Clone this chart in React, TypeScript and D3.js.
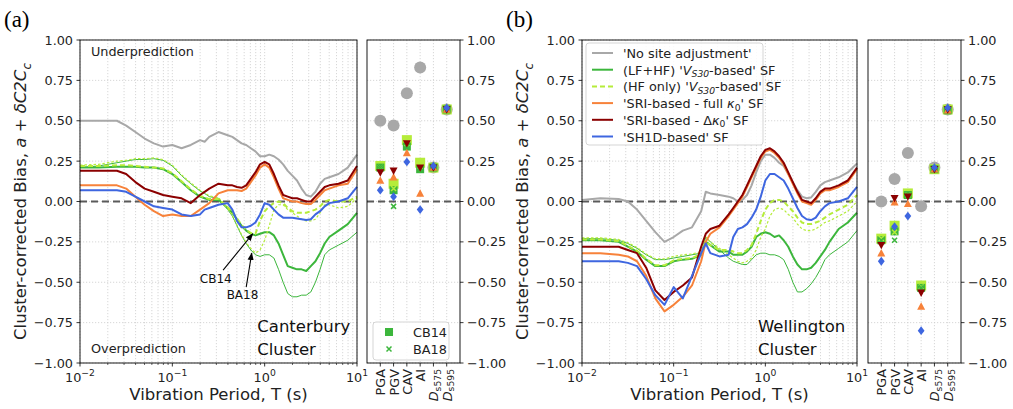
import React from "react";
import * as d3 from "d3";

// ---------- DATA ----------
const LOG_T = [
  -2, -1.8, -1.6, -1.5, -1.4, -1.3, -1.2, -1.1, -1.0, -0.9, -0.8,
  -0.7, -0.65, -0.6, -0.5, -0.4, -0.35, -0.3, -0.25, -0.2, -0.15, -0.1,
  -0.05, 0, 0.05, 0.1, 0.15, 0.2, 0.25, 0.3, 0.35, 0.4, 0.45,
  0.5, 0.55, 0.6, 0.65, 0.7, 0.8, 0.9, 1.0,
];
const PERIOD = LOG_T.map((e) => Math.pow(10, e));

// Panel (a) Canterbury
const A_NOSITE = [
  0.50, 0.50, 0.50, 0.47, 0.43, 0.39, 0.36, 0.34, 0.35, 0.33, 0.35,
  0.38, 0.37, 0.40, 0.43, 0.41, 0.40, 0.38, 0.36, 0.35, 0.33, 0.31,
  0.28, 0.28, 0.29, 0.28, 0.26, 0.23, 0.19, 0.16, 0.13, 0.08, 0.04,
  0.03, 0.06, 0.11, 0.14, 0.15, 0.17, 0.21, 0.29,
];
const A_VS30_CB = [
  0.21, 0.21, 0.215, 0.215, 0.215, 0.21, 0.21, 0.20, 0.17, 0.12, 0.07,
  0.03, 0.02, 0.01, 0.01, -0.04, -0.07, -0.11, -0.15, -0.18, -0.20, -0.21,
  -0.20, -0.19, -0.19, -0.21, -0.26, -0.33, -0.40, -0.41, -0.42, -0.42, -0.43,
  -0.40, -0.37, -0.32, -0.26, -0.22, -0.18, -0.14, -0.07,
];
const A_VS30_BA = [
  0.21, 0.22, 0.24, 0.25, 0.26, 0.26, 0.265, 0.255, 0.22, 0.16, 0.11,
  0.065, 0.05, 0.03, 0.02, -0.05, -0.09, -0.15, -0.21, -0.26, -0.30, -0.33,
  -0.34, -0.33, -0.33, -0.35, -0.42, -0.50, -0.57, -0.59, -0.59, -0.58, -0.58,
  -0.56, -0.50, -0.42, -0.33, -0.30, -0.27, -0.24, -0.19,
];
const A_HF_CB = [
  0.22, 0.22, 0.225, 0.225, 0.22, 0.215, 0.21, 0.205, 0.175, 0.125, 0.075,
  0.035, 0.025, 0.015, 0.015, -0.035, -0.065, -0.105, -0.145, -0.175, -0.195, -0.20,
  -0.12, -0.06, -0.03, -0.01, 0.0, -0.01, -0.04, -0.06, -0.07, -0.07, -0.07,
  -0.06, -0.05, -0.03, 0.0, 0.01, 0.0, 0.0, 0.03,
];
const A_HF_BA = [
  0.225, 0.23, 0.25, 0.255, 0.265, 0.265, 0.27, 0.26, 0.225, 0.165, 0.115,
  0.07, 0.055, 0.035, 0.025, -0.045, -0.085, -0.145, -0.205, -0.255, -0.29, -0.32,
  -0.30, -0.24, -0.15, -0.05, -0.02, -0.02, -0.05, -0.07, -0.09, -0.11, -0.12,
  -0.12, -0.11, -0.07, -0.02, -0.02, -0.04, -0.03, 0.02,
];
const A_SRI_FULL = [
  0.10, 0.10, 0.10, 0.08, 0.03, -0.02, -0.06, -0.09, -0.08, -0.09, -0.09,
  -0.05, -0.03, -0.01, 0.05, 0.07, 0.07, 0.07, 0.065, 0.08, 0.12, 0.16,
  0.21, 0.23, 0.21, 0.15, 0.08, 0.02, 0.01, 0.0, 0.0, -0.01, -0.015,
  -0.015, 0.01, 0.04, 0.07, 0.08, 0.10, 0.11, 0.20,
];
const A_SRI_DELTA = [
  0.19, 0.19, 0.19, 0.17, 0.12, 0.08, 0.06, 0.04, 0.03, 0.02, -0.01,
  0.04, 0.06, 0.08, 0.11, 0.10, 0.10, 0.09, 0.085, 0.10, 0.14, 0.18,
  0.23, 0.245, 0.23, 0.17, 0.10, 0.04, 0.03, 0.02, 0.02, 0.01, 0.0,
  0.0, 0.03, 0.06, 0.09, 0.10, 0.11, 0.13, 0.22,
];
const A_SH1D = [
  0.07, 0.07, 0.07, 0.06, 0.03, 0.0, -0.03, -0.04, -0.05, -0.08, -0.09,
  -0.08, -0.05, -0.04, -0.02, -0.01, -0.05, -0.12, -0.16, -0.16, -0.15, -0.13,
  -0.08, -0.01, -0.02, -0.05, -0.08, -0.10, -0.10, -0.10, -0.105, -0.11, -0.115,
  -0.11, -0.08, -0.06, -0.03, -0.01, 0.0, 0.02, 0.09,
];

// Panel (b) Wellington
const B_NOSITE = [
  0.01, 0.02, 0.015, 0.0, -0.05, -0.12, -0.19, -0.25, -0.22, -0.18, -0.16,
  -0.06, 0.06, 0.05, 0.04, 0.03, 0.02, 0.0, 0.01, 0.04, 0.10, 0.18,
  0.25, 0.29, 0.29, 0.27, 0.24, 0.22, 0.17, 0.12, 0.07, 0.03, 0.02,
  0.025, 0.06, 0.10, 0.12, 0.13, 0.15, 0.18, 0.235,
];
const B_VS30_CB = [
  -0.24, -0.24, -0.25, -0.28, -0.31, -0.36, -0.40, -0.40, -0.37, -0.36, -0.355,
  -0.33, -0.25, -0.27, -0.31, -0.31, -0.33, -0.33, -0.33, -0.31, -0.28, -0.22,
  -0.20, -0.19, -0.20, -0.22, -0.21, -0.24, -0.28, -0.34, -0.39, -0.42, -0.42,
  -0.41, -0.38, -0.34, -0.30, -0.25, -0.17, -0.13, -0.07,
];
const B_VS30_BA = [
  -0.23, -0.23, -0.24, -0.26, -0.29, -0.33, -0.36, -0.36, -0.35, -0.34, -0.33,
  -0.32, -0.22, -0.25, -0.30, -0.35, -0.37, -0.38, -0.39, -0.39, -0.36, -0.33,
  -0.32, -0.32, -0.33, -0.33, -0.34, -0.36, -0.42, -0.50, -0.56, -0.56, -0.54,
  -0.51, -0.47, -0.42, -0.36, -0.33, -0.29, -0.25, -0.18,
];
const B_HF_CB = [
  -0.235, -0.235, -0.245, -0.275, -0.305, -0.355, -0.395, -0.395, -0.365, -0.355, -0.35,
  -0.325, -0.25, -0.27, -0.30, -0.30, -0.31, -0.32, -0.32, -0.30, -0.27, -0.20,
  -0.12, -0.05, -0.01, 0.01, 0.01, 0.0, -0.03, -0.06, -0.10, -0.13, -0.14,
  -0.14, -0.13, -0.12, -0.10, -0.08, -0.05, -0.02, 0.04,
];
const B_HF_BA = [
  -0.225, -0.225, -0.235, -0.255, -0.285, -0.325, -0.355, -0.355, -0.34, -0.33, -0.325,
  -0.31, -0.22, -0.25, -0.29, -0.33, -0.35, -0.37, -0.38, -0.37, -0.35, -0.30,
  -0.22, -0.17, -0.09, -0.05, -0.04, -0.05, -0.08, -0.10, -0.14, -0.17, -0.18,
  -0.18, -0.17, -0.15, -0.13, -0.12, -0.09, -0.06, 0.0,
];
const B_SRI_FULL = [
  -0.32, -0.32, -0.33, -0.34, -0.37, -0.46, -0.60, -0.68, -0.64, -0.59, -0.52,
  -0.37, -0.25, -0.20, -0.16, -0.09, -0.05, -0.01, 0.03, 0.09, 0.15, 0.21,
  0.27, 0.31, 0.32, 0.30, 0.27, 0.23, 0.17, 0.11, 0.05, 0.0, -0.01,
  -0.02, 0.01, 0.05, 0.07, 0.07, 0.09, 0.12, 0.20,
];
const B_SRI_DELTA = [
  -0.28, -0.28, -0.28, -0.30, -0.32, -0.41, -0.55, -0.61, -0.56, -0.52, -0.47,
  -0.28, -0.20, -0.17, -0.15, -0.08, -0.04, 0.0, 0.04, 0.10, 0.16, 0.22,
  0.28, 0.32, 0.33, 0.31, 0.28, 0.24, 0.18, 0.12, 0.06, 0.01, 0.0,
  -0.01, 0.02, 0.06, 0.08, 0.08, 0.10, 0.13, 0.21,
];
const B_SH1D = [
  -0.37, -0.37, -0.37, -0.38, -0.40, -0.48, -0.58, -0.64, -0.53, -0.60, -0.46,
  -0.32, -0.26, -0.32, -0.34, -0.33, -0.22, -0.17, -0.16, -0.14, -0.10, -0.05,
  0.03, 0.13, 0.17, 0.17, 0.15, 0.13, 0.08, 0.02, -0.04, -0.09, -0.11,
  -0.115, -0.10, -0.06, -0.03, -0.01, 0.0, 0.02, 0.09,
];

// Intensity measures (small panels)
const IM_NAMES = ["PGA", "PGV", "CAV", "AI", "Ds575", "Ds595"];
const A_IM_NOSITE = [0.50, 0.47, 0.67, 0.83, 0.21, 0.57];
const A_IM_VS30_CB = [0.21, 0.07, 0.34, 0.20, 0.21, 0.57];
const A_IM_VS30_BA = [0.21, -0.03, 0.34, 0.20, 0.21, 0.57];
const A_IM_HF_CB = [0.22, 0.11, 0.38, 0.24, 0.21, 0.57];
const A_IM_HF_BA = [0.21, 0.08, 0.36, 0.22, 0.21, 0.57];
const A_IM_SRI_FULL = [0.13, 0.15, 0.30, 0.05, 0.21, 0.57];
const A_IM_SRI_DELTA = [0.18, 0.19, 0.36, 0.21, 0.21, 0.57];
const A_IM_SH1D = [0.07, 0.03, 0.245, -0.05, 0.22, 0.58];

const B_IM_NOSITE = [0.0, 0.14, 0.30, -0.03, 0.21, 0.57];
const B_IM_VS30_CB = [-0.24, -0.185, 0.04, -0.535, 0.20, 0.565];
const B_IM_VS30_BA = [-0.24, -0.24, 0.04, -0.535, 0.20, 0.565];
const B_IM_HF_CB = [-0.23, -0.15, 0.05, -0.52, 0.20, 0.57];
const B_IM_HF_BA = [-0.23, -0.19, 0.04, -0.53, 0.20, 0.57];
const B_IM_SRI_FULL = [-0.32, -0.005, -0.015, -0.65, 0.20, 0.565];
const B_IM_SRI_DELTA = [-0.27, 0.02, 0.03, -0.565, 0.20, 0.57];
const B_IM_SH1D = [-0.37, -0.155, -0.09, -0.80, 0.21, 0.58];

const Y_TICKS = [-1, -0.75, -0.5, -0.25, 0, 0.25, 0.5, 0.75, 1];
const X_DECADES = [-2, -1, 0, 1];

// ---------- STYLE ----------
const FONT = "'DejaVu Sans', Verdana, sans-serif";
const GRAY = "#a8a8a8";
const GREEN = "#3cb63c";
const LIME = "#b5ec3a";
const ORANGE = "#f7823a";
const DARKRED = "#8b0000";
const BLUE = "#3e66e0";
const GRID = "#cdcdcd";

const TOP = 40;
const BOTTOM = 363;
const TICK_FS = 12.8;
const LABEL_FS = 16.5;

type Seg = { t: string; it?: boolean; sub?: boolean; sup?: boolean };

function segs(list: Seg[], fs: number) {
  let cur = 0;
  return list.map((s, i) => {
    const target = s.sub ? fs * 0.28 : s.sup ? -fs * 0.45 : 0;
    const dy = target - cur;
    cur = target;
    return (
      <tspan
        key={i}
        dy={dy !== 0 ? dy : undefined}
        fontStyle={s.it ? "italic" : undefined}
        fontSize={s.sub || s.sup ? fs * 0.72 : undefined}
      >
        {s.t}
      </tspan>
    );
  });
}

const fmtY = (v: number) => (v < 0 ? "\u2212" : "") + Math.abs(v).toFixed(2);

const yScale = d3.scaleLinear().domain([-1, 1]).range([BOTTOM, TOP]);

type LineSpec = { v: number[]; c: string; w: number; dash?: string };
type MarkSpec = { v: number[]; type: string; c: string; size: number };

function Marker({ type, x, y, c, size }: { type: string; x: number; y: number; c: string; size: number }) {
  const h = size / 2;
  if (type === "circle") return <circle cx={x} cy={y} r={h} fill={c} />;
  if (type === "square") return <rect x={x - h} y={y - h} width={size} height={size} fill={c} />;
  if (type === "x")
    return (
      <path d={`M${x - h},${y - h}L${x + h},${y + h}M${x - h},${y + h}L${x + h},${y - h}`} stroke={c} strokeWidth={1.5} />
    );
  if (type === "tri-up")
    return <path d={`M${x},${y - h * 1.05}L${x + h},${y + h * 0.8}L${x - h},${y + h * 0.8}Z`} fill={c} />;
  if (type === "tri-down")
    return <path d={`M${x},${y + h * 1.05}L${x + h},${y - h * 0.8}L${x - h},${y - h * 0.8}Z`} fill={c} />;
  if (type === "diamond")
    return <path d={`M${x},${y - h * 1.1}L${x + h * 0.85},${y}L${x},${y + h * 1.1}L${x - h * 0.85},${y}Z`} fill={c} />;
  return null;
}

function Panel({
  x0, x1, sx0, sx1, lines, marks, letter, letterX, clusterName, isA,
}: {
  x0: number; x1: number; sx0: number; sx1: number; lines: LineSpec[]; marks: MarkSpec[];
  letter: string; letterX: number; clusterName: string; isA: boolean;
}) {
  const xs = d3.scaleLog().domain([0.01, 10]).range([x0, x1]);
  const xc = d3.scaleLinear().domain([-1, 6]).range([sx0, sx1]);
  const line = d3
    .line<number>()
    .x((_, i) => xs(PERIOD[i]))
    .y((v) => yScale(v));
  const minors: number[] = [];
  [-2, -1, 0].forEach((e) => {
    for (let k = 2; k <= 9; k++) minors.push(k * Math.pow(10, e));
  });
  const majors = X_DECADES.map((e) => Math.pow(10, e));
  const clipId = `clip-${letter}`;
  const W = x1 - x0;
  const labelX = x0 - 54;
  return (
    <g fontFamily={FONT}>
      <defs>
        <clipPath id={clipId}>
          <rect x={x0} y={TOP} width={x1 - x0} height={BOTTOM - TOP} />
        </clipPath>
      </defs>
      {/* panel letter */}
      <text x={letterX} y={27} fontFamily="'Liberation Serif', 'DejaVu Serif', serif" fontSize={23}>
        {letter}
      </text>
      {/* main grid */}
      {[...minors, ...majors].map((t, i) => (
        <line key={"vg" + i} x1={xs(t)} x2={xs(t)} y1={TOP} y2={BOTTOM} stroke={GRID} strokeWidth={0.8} strokeDasharray="1.2,1.8" />
      ))}
      {Y_TICKS.map((t, i) => (
        <line key={"hg" + i} x1={x0} x2={x1} y1={yScale(t)} y2={yScale(t)} stroke={GRID} strokeWidth={0.8} strokeDasharray="1.2,1.8" />
      ))}
      {/* zero line */}
      <line x1={x0} x2={x1} y1={yScale(0)} y2={yScale(0)} stroke="#5a5a5a" strokeWidth={2} strokeDasharray="7,4" />
      {/* curves */}
      <g clipPath={`url(#${clipId})`}>
        {lines.map((l, i) => (
          <path
            key={"l" + i}
            d={line(l.v) || ""}
            fill="none"
            stroke={l.c}
            strokeWidth={l.w}
            strokeDasharray={l.dash}
            strokeLinejoin="round"
          />
        ))}
      </g>
      {/* frame */}
      <rect x={x0} y={TOP} width={x1 - x0} height={BOTTOM - TOP} fill="none" stroke="#000" strokeWidth={0.9} />
      {/* y ticks */}
      {Y_TICKS.map((t, i) => (
        <g key={"yt" + i}>
          <line x1={x0 - 3.5} x2={x0} y1={yScale(t)} y2={yScale(t)} stroke="#000" strokeWidth={0.8} />
          <text x={x0 - 7} y={yScale(t)} textAnchor="end" dominantBaseline="central" fontSize={TICK_FS} fill="#222">
            {fmtY(t)}
          </text>
        </g>
      ))}
      {/* x ticks */}
      {minors.map((t, i) => (
        <line key={"xm" + i} x1={xs(t)} x2={xs(t)} y1={BOTTOM} y2={BOTTOM + 2} stroke="#000" strokeWidth={0.6} />
      ))}
      {X_DECADES.map((e, i) => (
        <g key={"xt" + i}>
          <line x1={xs(Math.pow(10, e))} x2={xs(Math.pow(10, e))} y1={BOTTOM} y2={BOTTOM + 3.5} stroke="#000" strokeWidth={0.8} />
          <text x={xs(Math.pow(10, e))} y={381.5} textAnchor="middle" fontSize={TICK_FS} fill="#222">
            {segs([{ t: "10" }, { t: e < 0 ? "\u2212" + Math.abs(e) : String(e), sup: true }], TICK_FS)}
          </text>
        </g>
      ))}
      {/* axis labels */}
      <text x={(x0 + x1) / 2} y={399.5} textAnchor="middle" fontSize={LABEL_FS} fill="#222">
        Vibration Period, T (s)
      </text>
      <text transform={`translate(${labelX},${(TOP + BOTTOM) / 2}) rotate(-90)`} textAnchor="middle" fontSize={LABEL_FS} fill="#222">
        {segs(
          [
            { t: "Cluster-corrected Bias, " },
            { t: "a", it: true },
            { t: " + " },
            { t: "\u03b4C2C", it: true },
            { t: "c", it: true, sub: true },
          ],
          LABEL_FS
        )}
      </text>
      {/* cluster name */}
      <text x={x0 + 0.64 * W} y={332} fontSize={LABEL_FS} fill="#111">
        {clusterName}
      </text>
      <text x={x0 + 0.64 * W} y={355} fontSize={LABEL_FS} fill="#111">
        Cluster
      </text>
      {isA && (
        <g>
          <text x={x0 + 11} y={56} fontSize={TICK_FS} fill="#222">Underprediction</text>
          <text x={x0 + 11} y={353} fontSize={TICK_FS} fill="#222">Overprediction</text>
        </g>
      )}
      {isA && <Annotations xs={xs} />}
      {!isA && <MainLegend x={x0 + 4} y={43} />}

      {/* small panel */}
      {IM_NAMES.map((_, i) => (
        <line key={"sg" + i} x1={xc(i)} x2={xc(i)} y1={TOP} y2={BOTTOM} stroke={GRID} strokeWidth={0.8} strokeDasharray="1.2,1.8" />
      ))}
      {Y_TICKS.map((t, i) => (
        <line key={"shg" + i} x1={sx0} x2={sx1} y1={yScale(t)} y2={yScale(t)} stroke={GRID} strokeWidth={0.8} strokeDasharray="1.2,1.8" />
      ))}
      <line x1={sx0} x2={sx1} y1={yScale(0)} y2={yScale(0)} stroke="#5a5a5a" strokeWidth={2} strokeDasharray="7,4" />
      {marks.map((m, mi) =>
        m.v.map((v, i) => <Marker key={`m${mi}-${i}`} type={m.type} x={xc(i)} y={yScale(v)} c={m.c} size={m.size} />)
      )}
      <rect x={sx0} y={TOP} width={sx1 - sx0} height={BOTTOM - TOP} fill="none" stroke="#000" strokeWidth={0.9} />
      {Y_TICKS.map((t, i) => (
        <g key={"syt" + i}>
          <line x1={sx1} x2={sx1 + 3.5} y1={yScale(t)} y2={yScale(t)} stroke="#000" strokeWidth={0.8} />
          <text x={sx1 + 7} y={yScale(t)} dominantBaseline="central" fontSize={TICK_FS} fill="#222">
            {fmtY(t)}
          </text>
        </g>
      ))}
      {IM_NAMES.map((n, i) => {
        const parts: Seg[] = n.startsWith("Ds") ? [{ t: "D", it: true }, { t: "s" + n.slice(2), sub: true }] : [{ t: n }];
        return (
          <g key={"sx" + i}>
            <line x1={xc(i)} x2={xc(i)} y1={BOTTOM} y2={BOTTOM + 3.5} stroke="#000" strokeWidth={0.8} />
            <text
              transform={`translate(${xc(i)},${BOTTOM + 6}) rotate(-90)`}
              textAnchor="end"
              dominantBaseline="central"
              fontSize={TICK_FS}
              fill="#222"
            >
              {segs(parts, TICK_FS)}
            </text>
          </g>
        );
      })}
      {isA && <SmallLegend x={sx0 + 6} y={322} />}
    </g>
  );
}

function Annotations({ xs }: { xs: d3.ScaleLogarithmic<number, number> }) {
  const arrows = [
    { label: "CB14", tx: Math.pow(10, -0.53), ty: -0.48, fx: Math.pow(10, -0.45), fy: -0.425, ax: Math.pow(10, -0.13), ay: -0.2 },
    { label: "BA18", tx: Math.pow(10, -0.24), ty: -0.58, fx: Math.pow(10, -0.2), fy: -0.53, ax: Math.pow(10, -0.14), ay: -0.32 },
  ];
  return (
    <g>
      <defs>
        <marker id="arrowhead" viewBox="0 0 10 10" refX="9" refY="5" markerWidth="7" markerHeight="7" orient="auto">
          <path d="M0,1L10,5L0,9Z" fill="#000" />
        </marker>
      </defs>
      {arrows.map((a, i) => (
        <g key={i}>
          <line
            x1={xs(a.fx)}
            y1={yScale(a.fy)}
            x2={xs(a.ax)}
            y2={yScale(a.ay)}
            stroke="#000"
            strokeWidth={1.1}
            markerEnd="url(#arrowhead)"
          />
          <text x={xs(a.tx)} y={yScale(a.ty)} textAnchor="middle" dominantBaseline="central" fontSize={12} fill="#111">
            {a.label}
          </text>
        </g>
      ))}
    </g>
  );
}

const LEGEND_ITEMS: { segs: Seg[]; c: string; dash?: string }[] = [
  { segs: [{ t: "'No site adjustment'" }], c: GRAY },
  { segs: [{ t: "(LF+HF) '" }, { t: "V", it: true }, { t: "S30", it: true, sub: true }, { t: "-based' SF" }], c: GREEN },
  { segs: [{ t: "(HF only) '" }, { t: "V", it: true }, { t: "S30", it: true, sub: true }, { t: "-based' SF" }], c: LIME, dash: "5,3" },
  { segs: [{ t: "'SRI-based - full " }, { t: "\u03ba", it: true }, { t: "0", sub: true }, { t: "' SF" }], c: ORANGE },
  { segs: [{ t: "'SRI-based - \u0394" }, { t: "\u03ba", it: true }, { t: "0", sub: true }, { t: "' SF" }], c: DARKRED },
  { segs: [{ t: "'SH1D-based' SF" }], c: BLUE },
];

function MainLegend({ x, y }: { x: number; y: number }) {
  const step = 16.7;
  return (
    <g>
      <rect x={x} y={y} width={177} height={102} rx={3} fill="#fff" fillOpacity={0.85} stroke="#d0d0d0" strokeWidth={0.9} />
      {LEGEND_ITEMS.map((it, i) => {
        const cy = y + 10 + i * step;
        return (
          <g key={i}>
            <line x1={x + 6} x2={x + 27} y1={cy} y2={cy} stroke={it.c} strokeWidth={2} strokeDasharray={it.dash} />
            <text x={x + 37} y={cy} dominantBaseline="central" fontSize={TICK_FS} fill="#222">
              {segs(it.segs, TICK_FS)}
            </text>
          </g>
        );
      })}
    </g>
  );
}

function SmallLegend({ x, y }: { x: number; y: number }) {
  return (
    <g>
      <rect x={x} y={y} width={76} height={38} rx={3} fill="#fff" fillOpacity={0.85} stroke="#d0d0d0" strokeWidth={0.9} />
      <Marker type="square" x={x + 16} y={y + 10} c={GREEN} size={8} />
      <text x={x + 40} y={y + 10} dominantBaseline="central" fontSize={TICK_FS} fill="#222">CB14</text>
      <Marker type="x" x={x + 16} y={y + 27} c={GREEN} size={5} />
      <text x={x + 40} y={y + 27} dominantBaseline="central" fontSize={TICK_FS} fill="#222">BA18</text>
    </g>
  );
}

const A_LINES: LineSpec[] = [
  { v: A_NOSITE, c: GRAY, w: 2 },
  { v: A_VS30_BA, c: GREEN, w: 1 },
  { v: A_VS30_CB, c: GREEN, w: 2 },
  { v: A_HF_BA, c: LIME, w: 1.2, dash: "2.5,2" },
  { v: A_HF_CB, c: LIME, w: 2, dash: "5,3" },
  { v: A_SRI_FULL, c: ORANGE, w: 2 },
  { v: A_SRI_DELTA, c: DARKRED, w: 2 },
  { v: A_SH1D, c: BLUE, w: 2 },
];
const B_LINES: LineSpec[] = [
  { v: B_NOSITE, c: GRAY, w: 2 },
  { v: B_VS30_BA, c: GREEN, w: 1 },
  { v: B_VS30_CB, c: GREEN, w: 2 },
  { v: B_HF_BA, c: LIME, w: 1.2, dash: "2.5,2" },
  { v: B_HF_CB, c: LIME, w: 2, dash: "5,3" },
  { v: B_SRI_FULL, c: ORANGE, w: 2 },
  { v: B_SRI_DELTA, c: DARKRED, w: 2 },
  { v: B_SH1D, c: BLUE, w: 2 },
];
const A_MARKS: MarkSpec[] = [
  { v: A_IM_NOSITE, type: "circle", c: GRAY, size: 12 },
  { v: A_IM_HF_CB, type: "square", c: LIME, size: 10 },
  { v: A_IM_VS30_CB, type: "square", c: GREEN, size: 8 },
  { v: A_IM_HF_BA, type: "x", c: LIME, size: 5 },
  { v: A_IM_VS30_BA, type: "x", c: GREEN, size: 5 },
  { v: A_IM_SRI_FULL, type: "tri-up", c: ORANGE, size: 8 },
  { v: A_IM_SRI_DELTA, type: "tri-down", c: DARKRED, size: 8 },
  { v: A_IM_SH1D, type: "diamond", c: BLUE, size: 8 },
];
const B_MARKS: MarkSpec[] = [
  { v: B_IM_NOSITE, type: "circle", c: GRAY, size: 12 },
  { v: B_IM_HF_CB, type: "square", c: LIME, size: 10 },
  { v: B_IM_VS30_CB, type: "square", c: GREEN, size: 8 },
  { v: B_IM_HF_BA, type: "x", c: LIME, size: 5 },
  { v: B_IM_VS30_BA, type: "x", c: GREEN, size: 5 },
  { v: B_IM_SRI_FULL, type: "tri-up", c: ORANGE, size: 8 },
  { v: B_IM_SRI_DELTA, type: "tri-down", c: DARKRED, size: 8 },
  { v: B_IM_SH1D, type: "diamond", c: BLUE, size: 8 },
];

export default function App() {
  return (
    <svg
      width={1013}
      height={409}
      viewBox="0 0 1013 409"
      style={{ position: "absolute", left: 0, top: 0, background: "#fff" }}
    >
      <rect x={0} y={0} width={1013} height={409} fill="#fff" />
      <Panel x0={80} x1={357} sx0={367} sx1={460} lines={A_LINES} marks={A_MARKS} letter="(a)" letterX={4} clusterName="Canterbury" isA={true} />
      <Panel x0={582} x1={857} sx0={868} sx1={961} lines={B_LINES} marks={B_MARKS} letter="(b)" letterX={506} clusterName="Wellington" isA={false} />
    </svg>
  );
}
